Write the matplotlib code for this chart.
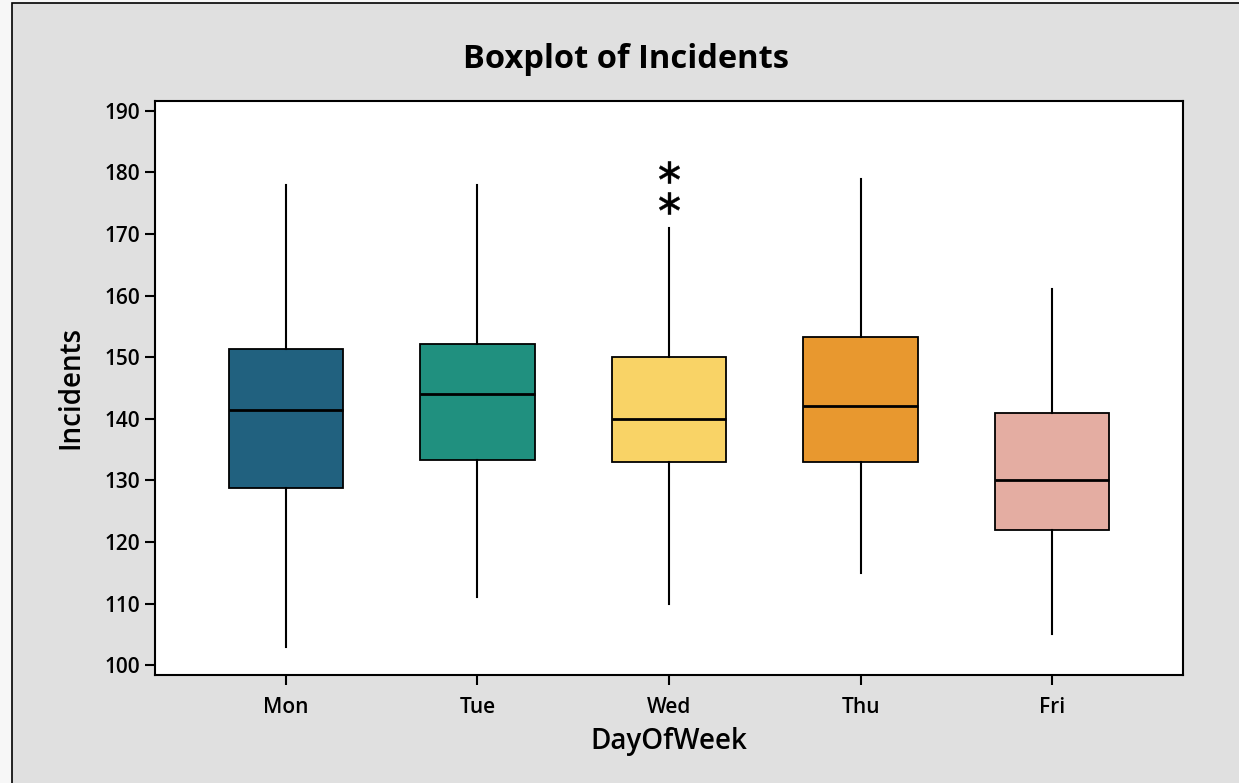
import matplotlib
matplotlib.use("Agg")
import matplotlib.pyplot as plt
from matplotlib.patches import Rectangle

plt.rcParams["font.family"] = ["Open Sans", "DejaVu Sans"]

# data
days = ["Mon", "Tue", "Wed", "Thu", "Fri"]
whisk_lo = [103, 111, 110, 115, 105]
q1 = [128.7, 133.3, 133, 133, 122]
med = [141.5, 144.1, 140, 142, 130]
q3 = [151.4, 152.1, 150, 153.2, 141]
whisk_hi = [178, 178, 171, 179, 161]
outliers = [[], [], [175, 180], [], []]
box_colors = ["#21617f", "#20907f", "#f9d366", "#e8982f", "#e4ada2"]

stats = []
for i in range(len(days)):
    stats.append({"label": days[i], "whislo": whisk_lo[i], "q1": q1[i],
                  "med": med[i], "q3": q3[i], "whishi": whisk_hi[i],
                  "fliers": outliers[i]})

fig = plt.figure(figsize=(12.39, 7.83), dpi=100)
fig.patch.set_facecolor("#f7f7f7")
# grey panel with thin border, like the Minitab graph window
fig.patches.append(Rectangle((12/1239, -0.01), 1.0, 1 - 3/783 + 0.01,
                             transform=fig.transFigure, facecolor="#e0e0e0",
                             edgecolor="black", linewidth=1.2, zorder=-5))

ax = fig.add_axes([155/1239, 1 - 675/783, (1183-155)/1239, (675-101)/783])
ax.set_facecolor("white")

bp = ax.bxp(stats, positions=range(len(days)), widths=0.6, patch_artist=True,
            showcaps=False,
            medianprops=dict(color="black", linewidth=2),
            whiskerprops=dict(color="black", linewidth=1.5),
            boxprops=dict(edgecolor="black", linewidth=1.3),
            flierprops=dict(marker="$\\ast$", markersize=16, color="black",
                            markerfacecolor="black", markeredgecolor="black",
                            markeredgewidth=0.3, linestyle="none"))
for patch, c in zip(bp["boxes"], box_colors):
    patch.set_facecolor(c)

ax.set_xlim(-0.684, 4.684)
ax.set_ylim(98.4, 191.6)
ax.set_yticks(range(100, 191, 10))
ax.set_xticks(range(len(days)))
ax.set_xticklabels(days)

for s in ax.spines.values():
    s.set_linewidth(1.5)
    s.set_color("black")
ax.tick_params(axis="both", direction="out", length=7, width=1.5,
               labelsize=15, colors="black")
ax.tick_params(axis="x", pad=9)
for lbl in ax.get_xticklabels() + ax.get_yticklabels():
    lbl.set_fontweight("semibold")

ax.set_xlabel("DayOfWeek", fontsize=20, fontweight="semibold", labelpad=6)
ax.set_ylabel("Incidents", fontsize=20, fontweight="semibold", labelpad=14)
fig.text(626/1239, 1 - 60/783, "Boxplot of Incidents", fontsize=23.5,
         fontweight="bold", ha="center", va="center")

fig.savefig("out.png", dpi=100, facecolor=fig.get_facecolor())
